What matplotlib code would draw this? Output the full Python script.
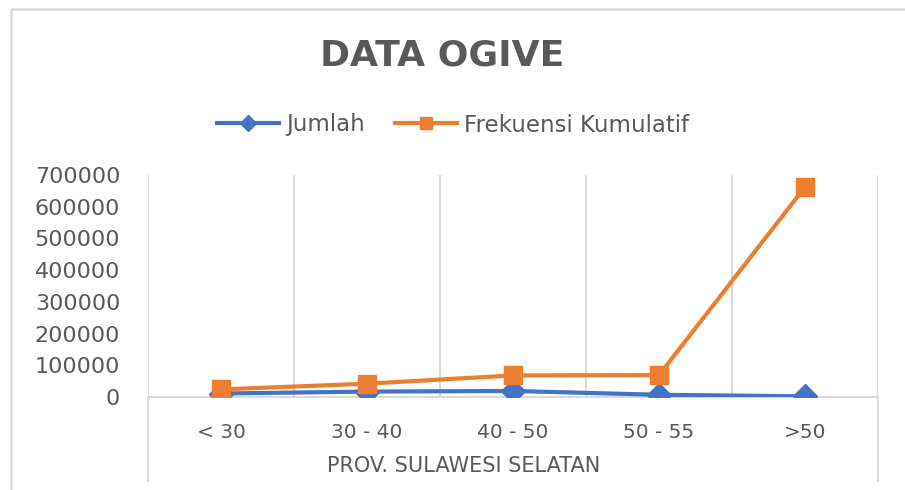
import matplotlib
matplotlib.use("Agg")
import matplotlib.pyplot as plt
from matplotlib.lines import Line2D

categories = ["< 30", "30 - 40", "40 - 50", "50 - 55", ">50"]
jumlah = [11000, 17000, 19000, 7000, 2000]
frek_kum = [24000, 42000, 68000, 69000, 662000]
y_ticks = [0, 100000, 200000, 300000, 400000, 500000, 600000, 700000]

BLUE = "#4472C4"
ORANGE = "#ED7D31"
TXT = "#595959"
GRID = "#D9D9D9"
FONT = ["DejaVu Sans"]

W, H = 905, 490
fig = plt.figure(figsize=(W / 100, H / 100), dpi=100)
fig.patch.set_facecolor("white")
fig.patch.set_edgecolor("white")
fig.patch.set_linewidth(0)

# outer frame (top and left edges only visible)
fig.add_artist(Line2D([10.5 / W, 1.02], [1 - 9 / H, 1 - 9 / H], transform=fig.transFigure,
                      color=GRID, lw=1.8, solid_capstyle="butt"))
fig.add_artist(Line2D([10.5 / W, 10.5 / W], [-0.02, 1 - 9 / H], transform=fig.transFigure,
                      color=GRID, lw=1.8, solid_capstyle="butt"))

ax = fig.add_axes([148 / W, 1 - 397 / H, (878 - 148) / W, (397 - 175) / H])
x = list(range(len(categories)))
ax.plot(x, jumlah, color=BLUE, lw=3, marker="D", ms=12, label="Jumlah", zorder=3)
ax.plot(x, frek_kum, color=ORANGE, lw=3, marker="s", ms=12.5, label="Frekuensi Kumulatif", zorder=4)

ax.set_xlim(-0.5, len(categories) - 0.5)
ax.set_ylim(0, 700000)
ax.set_yticks(y_ticks)
ax.set_yticklabels([str(v) for v in y_ticks], fontsize=16, color=TXT, family=FONT)
ax.set_xticks(x)
ax.set_xticklabels(categories, fontsize=14.5, color=TXT, family=FONT)
ax.set_xticks([i - 0.5 for i in range(len(categories) + 1)], minor=True)
ax.grid(False)
ax.grid(True, which="minor", axis="x", color=GRID, lw=1.5)
ax.tick_params(axis="both", which="both", length=0)
ax.tick_params(axis="y", pad=20)
ax.tick_params(axis="x", which="major", pad=19)
for s in ["top", "right", "left"]:
    ax.spines[s].set_visible(False)
ax.spines["bottom"].set_color(GRID)
ax.spines["bottom"].set_linewidth(1.5)

# extended outer vertical boundaries of plot area
for xe in (0, 1):
    ax.add_line(Line2D([xe, xe], [0, -0.38], transform=ax.transAxes, color=GRID,
                       lw=1.5, clip_on=False))

ax.set_xlabel("PROV. SULAWESI SELATAN", fontsize=15, color=TXT, family=FONT)
ax.xaxis.set_label_coords((464 - 148) / 730, -(466 - 397) / 222)
ax.xaxis.label.set_va("center")

fig.text(442 / W, 1 - 55 / H, "DATA OGIVE", fontsize=26, fontweight="bold", color=TXT,
         family=FONT, ha="center", va="center")

leg = fig.legend(loc="center", bbox_to_anchor=(453 / W, 1 - 125 / H), ncol=2, frameon=False,
                 prop={"family": FONT, "size": 16.5}, handlelength=2.7, columnspacing=1.3,
                 handletextpad=0.3, markerscale=0.7)
for t in leg.get_texts():
    t.set_color(TXT)

fig.savefig("out.png", dpi=100, facecolor="white")
